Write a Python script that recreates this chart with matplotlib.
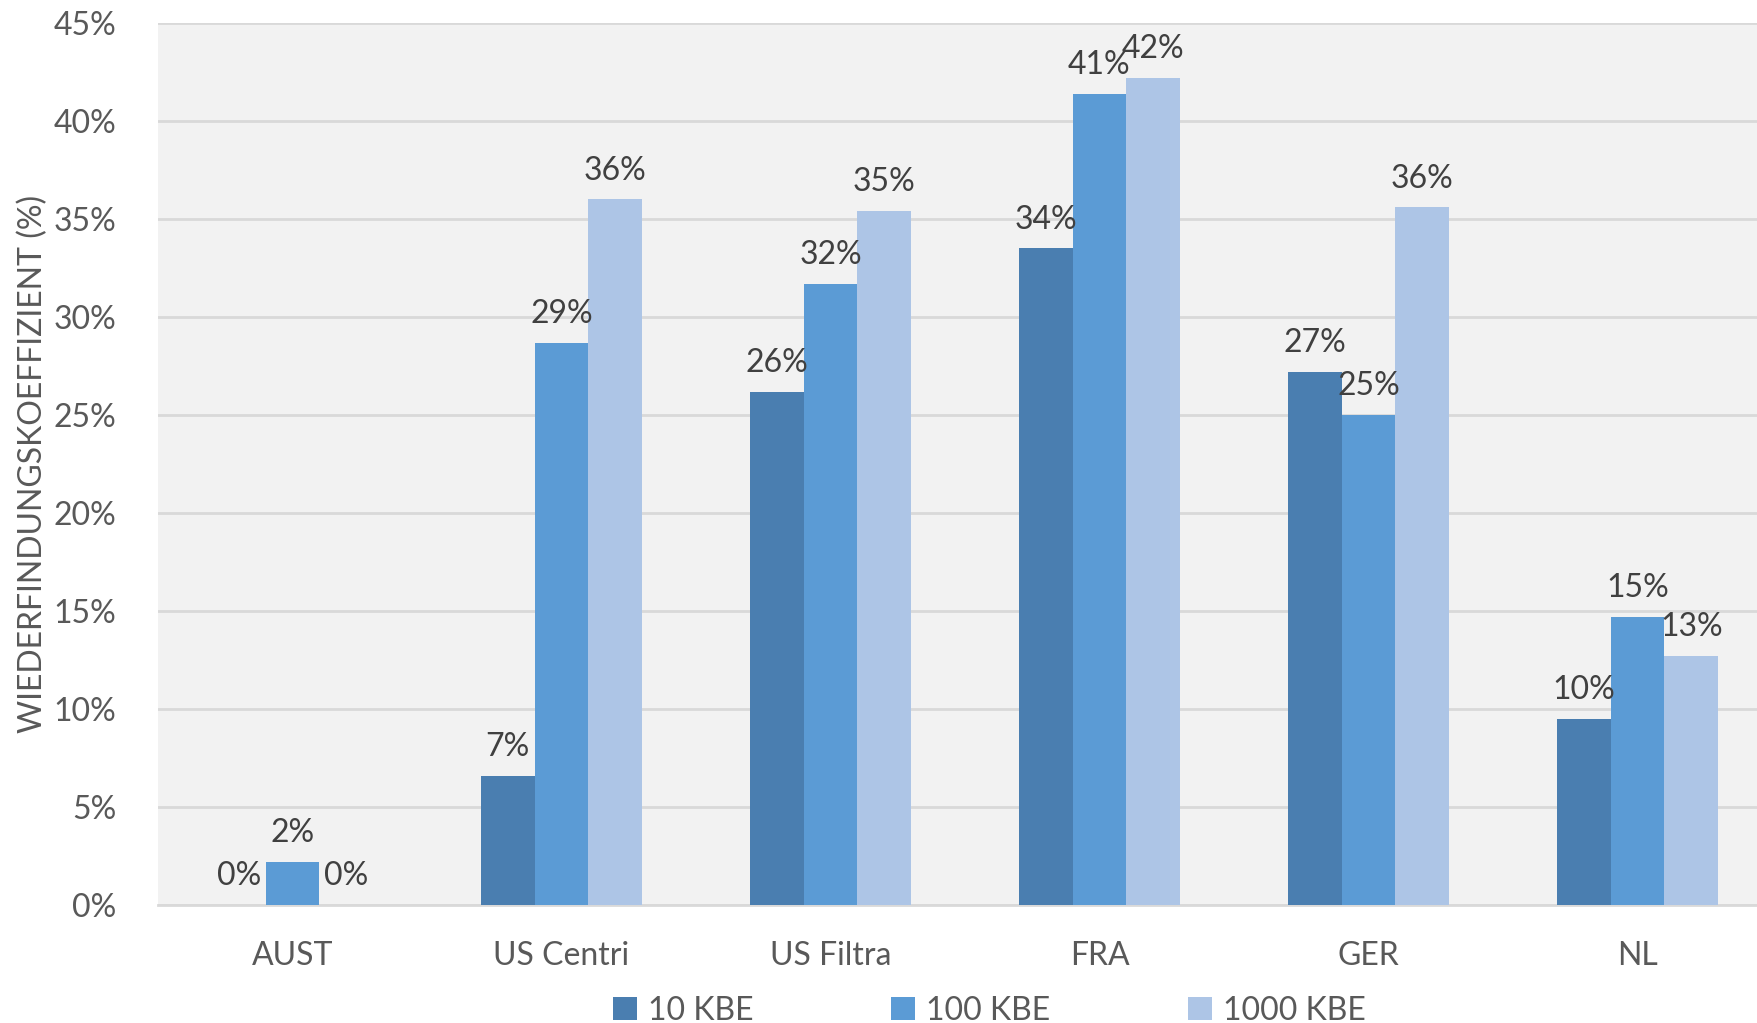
import numpy as np
import matplotlib.pyplot as plt

# Wiederfindung je Labor und Keimzahl
categories = ['AUST', 'US Centri', 'US Filtra', 'FRA', 'GER', 'NL']
kbe_10 = [0.0, 6.6, 26.2, 33.5, 27.2, 9.5]
kbe_100 = [2.2, 28.7, 31.7, 41.4, 25.0, 14.7]
kbe_1000 = [0.0, 36.0, 35.4, 42.2, 35.6, 12.7]
series_names = ['10 KBE', '100 KBE', '1000 KBE']
colors = ['#4a7eb0', '#5b9bd5', '#adc5e6']

plt.rcParams['font.family'] = ['Lato', 'DejaVu Sans']

fig = plt.figure(figsize=(17.57, 10.23), dpi=100)
ax = fig.add_axes([0.0899, 0.1153, 0.9186, 0.8622])
ax.set_facecolor('#f2f2f2')

x = np.arange(len(categories))
w = 0.2
for i, (vals, name, col) in enumerate(zip([kbe_10, kbe_100, kbe_1000], series_names, colors)):
    pos = x + (i - 1) * w
    ax.bar(pos, vals, width=w, color=col, label=name, zorder=3)
    for px, v in zip(pos, vals):
        ax.text(px, v + 0.7, f'{v:.0f}%', ha='center', va='bottom',
                fontsize=23, color='#404040', zorder=4)

ax.set_xlim(-0.5, len(categories) - 0.5)
ax.set_ylim(0, 45)
ax.set_yticks(np.arange(0, 46, 5))
ax.set_yticklabels([f'{t}%' for t in range(0, 46, 5)])
ax.set_xticks(x)
ax.set_xticklabels(categories)
ax.tick_params(axis='both', length=0, labelsize=23, colors='#595959')
ax.tick_params(axis='x', pad=26)
ax.tick_params(axis='y', pad=30)
ax.grid(axis='y', color='#d9d9d9', linewidth=2, zorder=0)
for s in ['top', 'right', 'left']:
    ax.spines[s].set_visible(False)
ax.spines['bottom'].set_color('#d9d9d9')
ax.spines['bottom'].set_linewidth(2)

ax.set_ylabel('WIEDERFINDUNGSKOEFFIZIENT (%)', fontsize=23, color='#595959', labelpad=4)

leg = fig.legend(loc='center', bbox_to_anchor=(0.563, 0.012), ncol=3,
                 frameon=False, fontsize=23, handlelength=0.75, handleheight=0.75,
                 columnspacing=4.3, handletextpad=0.35, labelcolor='#595959',
                 borderaxespad=0, borderpad=0)

fig.savefig('out.png', dpi=100, facecolor='white')
